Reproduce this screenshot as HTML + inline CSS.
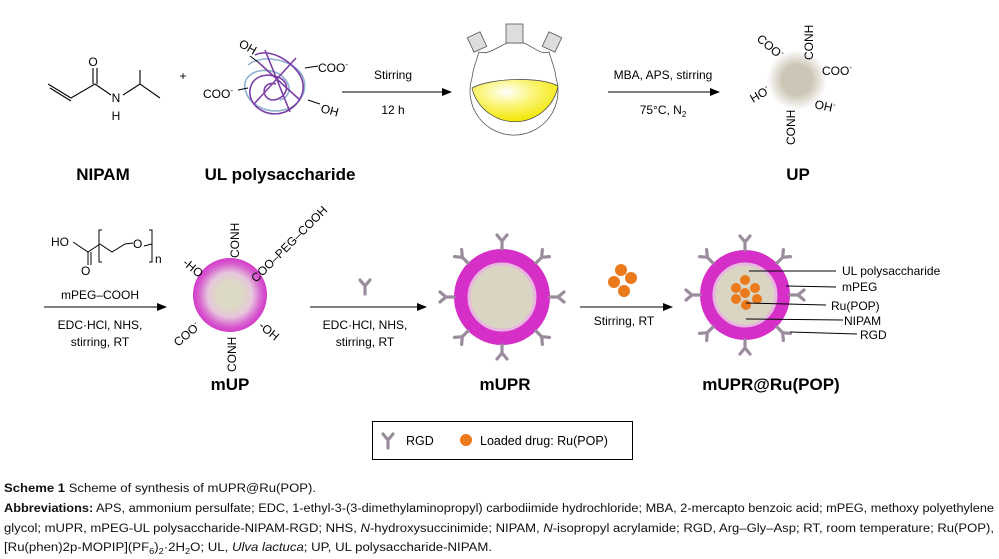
<!DOCTYPE html>
<html><head><meta charset="utf-8"><style>
html,body{margin:0;padding:0;background:#fff;}
svg{display:block;font-family:"Liberation Sans",sans-serif;}
</style></head><body>
<svg width="999" height="559" viewBox="0 0 999 559" xmlns="http://www.w3.org/2000/svg">
<defs>
<marker id="ah" markerWidth="10" markerHeight="8" refX="9" refY="4" orient="auto" markerUnits="userSpaceOnUse">
<path d="M0,0 L10,4 L0,8 z" fill="#000"/></marker>
<radialGradient id="upg"><stop offset="0.5" stop-color="#cdc6b6"/><stop offset="1" stop-color="#cdc6b6" stop-opacity="0"/></radialGradient>
<radialGradient id="mug"><stop offset="0.35" stop-color="#dcd9c4"/><stop offset="0.6" stop-color="#e6c6dc"/><stop offset="0.85" stop-color="#d85fd0"/><stop offset="1" stop-color="#d23ac8"/></radialGradient>
<radialGradient id="fl" cx="0.4" cy="0.3" r="0.7"><stop offset="0" stop-color="#ffffff"/><stop offset="0.45" stop-color="#fbf57a"/><stop offset="1" stop-color="#f2e600"/></radialGradient>
<g id="ab"><path d="M0,0 L0,-8 M0,-8 L-5,-14 M0,-8 L5,-14" stroke="#9a8c9c" stroke-width="3.2" fill="none" stroke-linecap="round"/></g>
</defs>

<!-- NIPAM -->
<g stroke="#000" stroke-width="1.1" fill="none">
<path d="M48,84 L71,98 L95,84 L111,95"/><path d="M50,88 L71,101"/>
<path d="M93,84 L93,68 M97,84 L97,68"/>
<path d="M123,95 L140,84 L160,98 M140,84 L140,70"/>
</g>
<g font-size="12" text-anchor="middle"><text x="93" y="66">O</text><text x="116" y="102">N</text><text x="116" y="120">H</text></g>
<text x="103" y="180" font-size="17" font-weight="bold" text-anchor="middle">NIPAM</text>
<text x="183" y="80" font-size="12" text-anchor="middle">+</text>

<!-- UL polysaccharide coil -->
<g fill="none" stroke-width="1.6">
<path d="M248,65 C260,55 285,58 298,70 C310,82 305,100 290,108 C270,116 250,106 246,92 C240,78 255,66 275,72 C290,78 295,95 280,100" stroke="#8fb1cf"/>
<path d="M255,55 C270,48 290,60 300,75 C308,90 300,105 285,112 C268,118 252,108 250,95 C248,80 262,70 280,78 C292,84 286,100 272,100 C260,98 262,80 276,84 M258,62 L300,100 M296,58 L254,104 M265,50 L290,112" stroke="#7b3fa6"/>
</g>
<g font-size="12"><text x="238" y="46" transform="rotate(30 238 46)">OH</text>
<text x="318" y="72">COO<tspan font-size="8" dy="-5">-</tspan></text>
<text x="203" y="98">COO<tspan font-size="8" dy="-5">-</tspan></text>
<text x="320" y="112" transform="rotate(15 320 112)">OH</text></g>
<path d="M250,56 L258,62 M305,68 L318,66 M238,90 L248,88 M308,100 L320,104" stroke="#000"/>
<text x="280" y="180" font-size="17" font-weight="bold" text-anchor="middle">UL polysaccharide</text>

<line x1="342" y1="92" x2="451" y2="92" stroke="#000" marker-end="url(#ah)"/>
<text x="393" y="79" font-size="12" text-anchor="middle">Stirring</text>
<text x="393" y="114" font-size="12" text-anchor="middle">12 h</text>

<!-- flask -->
<g stroke="#555" stroke-width="0.8">
<path d="M479,52 C476,62 473,68 472,78 A44,44 0 1 0 556,78 C555,68 552,62 549,52 C541,55 535,48 524,43 L507,43 C496,48 488,55 479,52 z" fill="#fff"/>
<path d="M472,88 C490,78 540,76 558,86 A44,44 0 0 1 472,88 z" fill="url(#fl)"/>
<rect x="506" y="24" width="17" height="19" fill="#ddd"/>
<rect x="470" y="34" width="14" height="16" fill="#ddd" transform="rotate(-25 477 42)"/>
<rect x="545" y="34" width="14" height="16" fill="#ddd" transform="rotate(25 552 42)"/>
</g>

<line x1="608" y1="92" x2="719" y2="92" stroke="#000" marker-end="url(#ah)"/>
<text x="663" y="79" font-size="12" text-anchor="middle">MBA, APS, stirring</text>
<text x="663" y="114" font-size="12" text-anchor="middle">75°C, N<tspan font-size="8" dy="3">2</tspan></text>

<!-- UP -->
<circle cx="797" cy="80" r="30" fill="url(#upg)"/>
<g font-size="12">
<text x="756" y="40" transform="rotate(40 756 40)">COO<tspan font-size="8" dy="-5">-</tspan></text>
<text x="813" y="60" transform="rotate(-90 813 60)">CONH</text>
<text x="822" y="75">COO<tspan font-size="8" dy="-5">-</tspan></text>
<text x="753" y="103" transform="rotate(-30 753 103)">HO<tspan font-size="8" dy="-5">-</tspan></text>
<text x="814" y="108" transform="rotate(12 814 108)">OH<tspan font-size="8" dy="-5">-</tspan></text>
<text x="795" y="145" transform="rotate(-90 795 145)">CONH</text>
</g>
<text x="798" y="180" font-size="17" font-weight="bold" text-anchor="middle">UP</text>

<!-- PEG -->
<g stroke="#000" stroke-width="1" fill="none">
<path d="M73,242 L88,252 L100,244 M88,252 L88,265 M91,252 L91,265 M100,244 L112,252 L125,244 L133,243"/>
<path d="M102,230 L99,230 L99,262 L102,262 M149,230 L152,230 L152,262 L149,262 M144,246 L152,244"/>
</g>
<g font-size="12"><text x="51" y="246">HO</text><text x="81" y="275">O</text><text x="133" y="248">O</text><text x="155" y="263">n</text></g>
<text x="100" y="299" font-size="12" text-anchor="middle">mPEG–COOH</text>
<line x1="44" y1="307" x2="166" y2="307" stroke="#000" marker-end="url(#ah)"/>
<text x="100" y="329" font-size="12" text-anchor="middle">EDC·HCl, NHS,</text>
<text x="100" y="346" font-size="12" text-anchor="middle">stirring, RT</text>

<!-- mUP -->
<circle cx="230" cy="295" r="37" fill="url(#mug)"/>
<g font-size="12">
<text x="239" y="258" transform="rotate(-90 239 258)">CONH</text>
<text x="256" y="283" transform="rotate(-45 256 283)">COO–PEG–COOH</text>
<text x="182" y="264" transform="rotate(40 182 264)">-HO</text>
<text x="178" y="347" transform="rotate(-40 178 347)">COO<tspan font-size="8" dy="-5">-</tspan></text>
<text x="236" y="372" transform="rotate(-90 236 372)">CONH</text>
<text x="258" y="327" transform="rotate(40 258 327)">-OH</text>
</g>
<text x="230" y="390" font-size="17" font-weight="bold" text-anchor="middle">mUP</text>

<line x1="310" y1="307" x2="426" y2="307" stroke="#000" marker-end="url(#ah)"/>
<use href="#ab" transform="translate(365,294)"/>
<text x="365" y="329" font-size="12" text-anchor="middle">EDC·HCl, NHS,</text>
<text x="365" y="346" font-size="12" text-anchor="middle">stirring, RT</text>

<!-- mUPR -->
<circle cx="502" cy="297" r="48" fill="#d52fc8"/>
<circle cx="502" cy="297" r="33" fill="#dad5c2" stroke="#e8b4e0" stroke-width="3"/>
<g>
<use href="#ab" transform="translate(502,249) rotate(0)"/>
<use href="#ab" transform="translate(536,263) rotate(45)"/>
<use href="#ab" transform="translate(550,297) rotate(90)"/>
<use href="#ab" transform="translate(536,331) rotate(135)"/>
<use href="#ab" transform="translate(502,345) rotate(180)"/>
<use href="#ab" transform="translate(468,331) rotate(225)"/>
<use href="#ab" transform="translate(454,297) rotate(270)"/>
<use href="#ab" transform="translate(468,263) rotate(315)"/>
</g>
<text x="505" y="390" font-size="17" font-weight="bold" text-anchor="middle">mUPR</text>

<!-- drug arrow -->
<g fill="#ea7a1c"><circle cx="621" cy="270" r="6"/><circle cx="631" cy="278" r="6"/><circle cx="614" cy="282" r="6"/><circle cx="624" cy="291" r="6"/></g>
<line x1="580" y1="307" x2="672" y2="307" stroke="#000" marker-end="url(#ah)"/>
<text x="624" y="325" font-size="12" text-anchor="middle">Stirring, RT</text>

<!-- mUPR@Ru -->
<circle cx="745" cy="295" r="45" fill="#d52fc8"/>
<circle cx="745" cy="295" r="31" fill="#dad5c2" stroke="#e8b4e0" stroke-width="3"/>
<g>
<use href="#ab" transform="translate(745,250) rotate(0)"/>
<use href="#ab" transform="translate(777,263) rotate(45)"/>
<use href="#ab" transform="translate(790,295) rotate(90)"/>
<use href="#ab" transform="translate(777,327) rotate(135)"/>
<use href="#ab" transform="translate(745,340) rotate(180)"/>
<use href="#ab" transform="translate(713,327) rotate(225)"/>
<use href="#ab" transform="translate(700,295) rotate(270)"/>
<use href="#ab" transform="translate(713,263) rotate(315)"/>
</g>
<g fill="#ea7a1c"><circle cx="745" cy="280" r="5"/><circle cx="736" cy="288" r="5"/><circle cx="755" cy="288" r="5"/><circle cx="745" cy="293" r="5"/><circle cx="736" cy="299" r="5"/><circle cx="757" cy="299" r="5"/><circle cx="746" cy="305" r="5"/></g>
<g stroke="#000" stroke-width="1">
<line x1="749" y1="271" x2="836" y2="271"/>
<line x1="786" y1="286" x2="836" y2="287"/>
<line x1="746" y1="303" x2="826" y2="305"/>
<line x1="746" y1="319" x2="843" y2="320"/>
<line x1="790" y1="332" x2="857" y2="334"/>
</g>
<g font-size="12">
<text x="842" y="275">UL polysaccharide</text>
<text x="842" y="291">mPEG</text>
<text x="831" y="310">Ru(POP)</text>
<text x="844" y="325">NIPAM</text>
<text x="860" y="339">RGD</text>
</g>
<text x="771" y="390" font-size="17" font-weight="bold" text-anchor="middle">mUPR@Ru(POP)</text>

<!-- legend -->
<rect x="372.5" y="421.5" width="260" height="38" fill="none" stroke="#000"/>
<use href="#ab" transform="translate(388,448)"/>
<text x="406" y="445" font-size="12.5">RGD</text>
<circle cx="466" cy="440" r="6" fill="#ea7a1c"/>
<text x="480" y="445" font-size="12.5">Loaded drug: Ru(POP)</text>

<!-- caption -->
<g font-size="11.5" fill="#111">
<text x="4" y="492" textLength="312" lengthAdjust="spacingAndGlyphs"><tspan font-weight="bold">Scheme 1</tspan> Scheme of synthesis of mUPR@Ru(POP).</text>
<text x="4" y="512" textLength="990" lengthAdjust="spacingAndGlyphs"><tspan font-weight="bold">Abbreviations:</tspan> APS, ammonium persulfate; EDC, 1-ethyl-3-(3-dimethylaminopropyl) carbodiimide hydrochloride; MBA, 2-mercapto benzoic acid; mPEG, methoxy polyethylene</text>
<text x="4" y="532" textLength="990" lengthAdjust="spacingAndGlyphs">glycol; mUPR, mPEG-UL polysaccharide-NIPAM-RGD; NHS, <tspan font-style="italic">N</tspan>-hydroxysuccinimide; NIPAM, <tspan font-style="italic">N</tspan>-isopropyl acrylamide; RGD, Arg–Gly–Asp; RT, room temperature; Ru(POP),</text>
<text x="4" y="551" textLength="488" lengthAdjust="spacingAndGlyphs">[Ru(phen)2p-MOPIP](PF<tspan font-size="8" dy="3">6</tspan><tspan dy="-3">)</tspan><tspan font-size="8" dy="3">2</tspan><tspan dy="-3">·2H</tspan><tspan font-size="8" dy="3">2</tspan><tspan dy="-3">O; UL, </tspan><tspan font-style="italic">Ulva lactuca</tspan>; UP, UL polysaccharide-NIPAM.</text>
</g>
</svg>
</body></html>
